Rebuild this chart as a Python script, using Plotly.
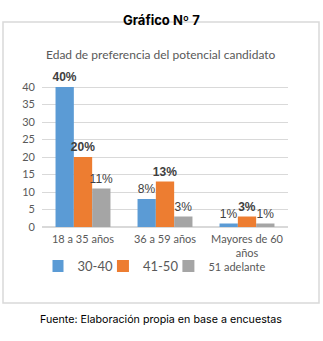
import plotly.graph_objects as go

categories = ["18 a 35 años", "36 a 59 años", "Mayores de 60<br>años"]
series_names = ["30-40", "41-50", "51 adelante"]
v_30_40 = [40, 8, 1]
v_41_50 = [20, 13, 3]
v_51 = [11, 3, 1]
bold_30_40 = [True, False, False]
bold_41_50 = [True, True, True]
bold_51 = [False, False, False]
colors = ["#5B9BD5", "#ED7D31", "#A5A5A5"]
legend_sizes = [13, 13, 11]
y_ticks = [0, 5, 10, 15, 20, 25, 30, 35, 40]

W, H = 323, 341
L, R, T, B = 42, 35, 80, 114
pw, ph = W - L - R, H - T - B

def px(x):
    return (x - L) / pw

def py(y):
    return (H - B - y) / ph

def labels(vals, bold):
    return [f"<b>{v}%</b>" if b else f"{v}%" for v, b in zip(vals, bold)]

fig = go.Figure()
for name, vals, bold, col, ls in zip(series_names, [v_30_40, v_41_50, v_51],
                                     [bold_30_40, bold_41_50, bold_51], colors, legend_sizes):
    fig.add_trace(go.Bar(
        x=categories, y=vals, name=f"<span style='font-size:{ls}px'>{name}</span>",
        marker=dict(color=col, line=dict(width=0)),
        text=labels(vals, bold), textposition="outside", cliponaxis=False,
        constraintext="none",
        textfont=dict(family="Liberation Sans, Arial", size=12, color="#404040"),
    ))

fig.update_layout(
    width=W, height=H,
    margin=dict(l=L, r=R, t=T, b=B, autoexpand=False),
    paper_bgcolor="white", plot_bgcolor="white",
    barmode="group", bargap=0.33, bargroupgap=0,
    font=dict(family="Lato, Liberation Sans", color="#595959", size=11),
    showlegend=True,
    legend=dict(orientation="h", xref="container", x=0.5, xanchor="center",
                yref="container", y=1 - 266 / H, yanchor="middle",
                font=dict(size=12, color="#595959"), itemwidth=30, indentation=-15,
                traceorder="normal", bgcolor="rgba(0,0,0,0)"),
    xaxis=dict(showline=False, ticks="", ticklabelstandoff=4,
               tickfont=dict(size=11, color="#595959")),
    yaxis=dict(range=[0, 42], tickvals=y_ticks, showgrid=True, gridcolor="#D9D9D9",
               gridwidth=1, zeroline=True, zerolinecolor="#D9D9D9", ticks="",
               ticklabelstandoff=6, tickfont=dict(size=11, color="#595959")),
    shapes=[dict(type="rect", xref="paper", yref="paper",
                 x0=px(3), x1=px(319), y0=py(303), y1=py(22),
                 line=dict(color="#D9D9D9", width=1.5), layer="below")],
    annotations=[
        dict(text="<b>Gráfico Nº 7</b>", xref="paper", yref="paper", x=px(161), y=py(10),
             showarrow=False, font=dict(family="Inter, Lato", size=13, color="#000000")),
        dict(text="Edad de preferencia del potencial candidato", xref="paper", yref="paper",
             x=px(161), y=py(45), showarrow=False,
             font=dict(family="Lato, Liberation Sans", size=12, color="#595959")),
        dict(text="Fuente: Elaboración propia en base a encuestas", xref="paper", yref="paper",
             x=px(161), y=py(328), showarrow=False,
             font=dict(family="Inter, Lato", size=10.7, color="#000000")),
    ],
)
fig.write_html("out.html", config={"displayModeBar": False},
               post_script="document.body.style.margin='0';document.body.style.overflow='hidden';")
